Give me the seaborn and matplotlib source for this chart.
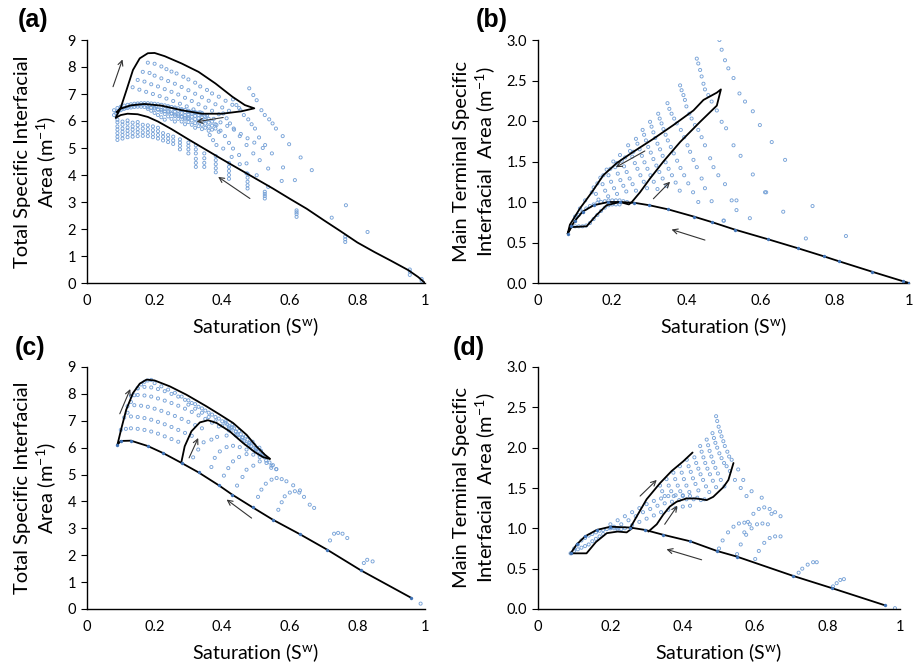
import matplotlib
matplotlib.use("Agg")
import matplotlib.pyplot as plt
import seaborn as sns
import pandas as pd

sns.set_theme(style="white")
plt.rcParams["font.family"] = ["Lato", "DejaVu Sans"]
plt.rcParams["mathtext.fontset"] = "custom"
plt.rcParams["mathtext.rm"] = "Lato"
plt.rcParams["mathtext.it"] = "Lato:italic"

# ---------------- panel (a): total specific interfacial area ----------------
a_main_x = [0.085, 0.10, 0.12, 0.15, 0.18, 0.21, 0.25, 0.30, 0.35, 0.40, 0.45, 0.50,
            0.55, 0.60, 0.65, 0.70, 0.75, 0.80, 0.85, 0.90, 0.95, 0.98, 1.0]
a_main_y = [6.12, 6.22, 6.27, 6.25, 6.15, 5.98, 5.70, 5.32, 4.95, 4.58, 4.22, 3.86,
            3.50, 3.12, 2.75, 2.33, 1.92, 1.50, 1.15, 0.82, 0.48, 0.22, 0.0]
a_loop_x = [0.085, 0.09, 0.10, 0.117, 0.136, 0.156, 0.18, 0.20, 0.23, 0.28, 0.33, 0.38,
            0.43, 0.467, 0.495, 0.457, 0.40, 0.34, 0.28, 0.22, 0.17, 0.13, 0.10, 0.087]
a_loop_y = [6.12, 6.25, 6.50, 7.15, 7.89, 8.32, 8.51, 8.52, 8.40, 8.13, 7.82, 7.39,
            6.90, 6.59, 6.47, 6.36, 6.27, 6.27, 6.40, 6.57, 6.63, 6.58, 6.46, 6.33]
a_arrows = [((0.077, 7.27), (0.105, 8.28)), ((0.403, 6.13), (0.324, 5.97)),
            ((0.482, 3.13), (0.388, 3.93))]
a_points = [
    ([0.18, 0.20, 0.22, 0.235, 0.25, 0.265, 0.285, 0.30, 0.32, 0.335, 0.355, 0.37, 0.39, 0.41, 0.43, 0.45],
     [8.16, 8.12, 8.02, 7.92, 7.83, 7.76, 7.64, 7.54, 7.42, 7.28, 7.15, 7.02, 6.90, 6.75, 6.60, 6.48]),
    ([0.165, 0.185, 0.20, 0.22, 0.24, 0.26, 0.28, 0.30, 0.32, 0.34, 0.36, 0.38, 0.40, 0.42],
     [7.82, 7.78, 7.68, 7.58, 7.48, 7.38, 7.26, 7.14, 7.01, 6.88, 6.75, 6.62, 6.50, 6.38]),
    ([0.15, 0.17, 0.19, 0.21, 0.23, 0.25, 0.27, 0.29, 0.31, 0.33, 0.35, 0.37, 0.39],
     [7.52, 7.46, 7.36, 7.28, 7.18, 7.08, 6.98, 6.86, 6.74, 6.62, 6.50, 6.38, 6.25]),
    ([0.135, 0.155, 0.175, 0.195, 0.215, 0.235, 0.255, 0.275, 0.295, 0.315, 0.335, 0.355, 0.375, 0.395,
      0.415, 0.435, 0.455, 0.475, 0.495, 0.52],
     [7.25, 7.16, 7.08, 7.00, 6.92, 6.83, 6.74, 6.64, 6.54, 6.43, 6.32, 6.20, 6.08, 5.95,
      5.82, 5.68, 5.52, 5.36, 5.20, 5.00]),
    ([0.08, 0.09, 0.10, 0.11, 0.12, 0.13, 0.14, 0.15, 0.16, 0.17, 0.18, 0.19, 0.20, 0.21, 0.22, 0.23,
      0.24, 0.25, 0.26, 0.27, 0.28, 0.29, 0.30, 0.31, 0.32, 0.33, 0.34],
     [6.40, 6.48, 6.53, 6.57, 6.60, 6.62, 6.64, 6.65, 6.66, 6.66, 6.66, 6.65, 6.64, 6.62, 6.60, 6.58,
      6.55, 6.52, 6.50, 6.47, 6.44, 6.41, 6.38, 6.35, 6.33, 6.31, 6.30]),
    ([0.08, 0.09, 0.10, 0.11, 0.12, 0.13, 0.14, 0.15, 0.16, 0.17, 0.18, 0.19, 0.20, 0.21, 0.22, 0.23,
      0.24, 0.25, 0.26, 0.27, 0.28, 0.29, 0.30],
     [6.22, 6.32, 6.40, 6.45, 6.48, 6.50, 6.52, 6.53, 6.53, 6.52, 6.51, 6.49, 6.46, 6.43, 6.40, 6.36,
      6.32, 6.28, 6.24, 6.20, 6.16, 6.12, 6.08]),
    ([0.085, 0.095, 0.105, 0.115, 0.125, 0.135, 0.145, 0.155, 0.165, 0.175, 0.185, 0.195, 0.205],
     [6.30, 6.40, 6.46, 6.50, 6.54, 6.57, 6.59, 6.60, 6.60, 6.60, 6.59, 6.57, 6.55]),
    ([0.18, 0.19, 0.20, 0.21, 0.22, 0.23], [6.45, 6.38, 6.30, 6.22, 6.14, 6.05]),
    ([0.20, 0.21, 0.22, 0.23, 0.24, 0.25, 0.26], [6.50, 6.42, 6.34, 6.26, 6.17, 6.08, 5.98]),
    ([0.22, 0.23, 0.24, 0.25, 0.26, 0.27, 0.28, 0.29], [6.52, 6.44, 6.36, 6.27, 6.18, 6.08, 5.98, 5.88]),
    ([0.24, 0.25, 0.26, 0.27, 0.28, 0.29, 0.30, 0.31, 0.32], [6.50, 6.42, 6.34, 6.25, 6.16, 6.06, 5.96, 5.86, 5.75]),
    ([0.26, 0.27, 0.28, 0.29, 0.30, 0.31, 0.32, 0.33, 0.34], [6.46, 6.38, 6.30, 6.21, 6.12, 6.02, 5.92, 5.81, 5.70]),
    ([0.28, 0.29, 0.30, 0.31, 0.32, 0.33, 0.34, 0.35, 0.36], [6.40, 6.33, 6.25, 6.16, 6.07, 5.97, 5.86, 5.75, 5.64]),
    ([0.30, 0.31, 0.32, 0.33, 0.34, 0.35, 0.36, 0.37], [6.34, 6.27, 6.19, 6.10, 6.00, 5.90, 5.79, 5.68]),
    ([0.32, 0.33, 0.34, 0.35, 0.36, 0.37, 0.38, 0.39], [6.30, 6.22, 6.13, 6.04, 5.94, 5.83, 5.72, 5.60]),
    ([0.34, 0.35, 0.36, 0.37, 0.38], [6.25, 6.17, 6.08, 5.98, 5.88]),
    ([0.48, 0.492, 0.502, 0.516, 0.526, 0.539, 0.549, 0.559, 0.579, 0.598, 0.632, 0.665],
     [7.21, 6.96, 6.77, 6.40, 6.22, 6.06, 5.91, 5.72, 5.44, 5.14, 4.65, 4.18]),
    ([0.432, 0.442, 0.454, 0.464, 0.477, 0.487, 0.497, 0.509, 0.527, 0.547, 0.58, 0.615],
     [6.80, 6.59, 6.40, 6.22, 6.06, 5.88, 5.72, 5.39, 5.11, 4.80, 4.28, 3.81]),
    ([0.403, 0.413, 0.423, 0.434, 0.452, 0.472, 0.492, 0.511, 0.536, 0.576],
     [6.28, 6.10, 5.91, 5.72, 5.44, 5.11, 4.80, 4.55, 4.24, 3.78]),
    ([0.383, 0.395, 0.408, 0.42, 0.432, 0.45, 0.472, 0.502, 0.536],
     [5.85, 5.64, 5.44, 5.19, 4.98, 4.74, 4.43, 3.99, 3.56]),
    ([0.363, 0.373, 0.383, 0.403, 0.428, 0.452, 0.472], [5.48, 5.29, 5.11, 4.98, 4.67, 4.40, 4.06]),
    ([0.09] * 7, [5.30, 5.42, 5.55, 5.68, 5.80, 5.95, 6.05]),
    ([0.105] * 6, [5.35, 5.48, 5.60, 5.72, 5.86, 5.98]),
    ([0.12] * 6, [5.40, 5.52, 5.64, 5.76, 5.90, 6.02]),
    ([0.135] * 5, [5.42, 5.55, 5.68, 5.80, 5.94]),
    ([0.15] * 5, [5.44, 5.58, 5.70, 5.84, 5.96]),
    ([0.165] * 4, [5.45, 5.58, 5.72, 5.86]),
    ([0.18] * 4, [5.44, 5.57, 5.70, 5.84]),
    ([0.195] * 4, [5.40, 5.52, 5.66, 5.80]),
    ([0.21] * 4, [5.35, 5.48, 5.62, 5.75]),
    ([0.225] * 3, [5.28, 5.42, 5.55]),
    ([0.24] * 3, [5.22, 5.35, 5.48]),
    ([0.255] * 3, [5.15, 5.28, 5.42]),
    ([0.275] * 4, [4.95, 5.08, 5.20, 5.32]),
    ([0.30] * 4, [4.80, 4.95, 5.08, 5.20]),
    ([0.322] * 6, [4.30, 4.45, 4.60, 4.80, 4.95, 5.10]),
    ([0.347] * 4, [4.30, 4.45, 4.62, 4.80]),
    ([0.381] * 5, [4.10, 4.25, 4.40, 4.55, 4.70]),
    ([0.42] * 5, [3.86, 4.00, 4.15, 4.30, 4.45]),
    ([0.475] * 5, [3.50, 3.62, 3.75, 3.90, 4.05]),
    ([0.526] * 4, [3.13, 3.22, 3.30, 3.38]),
    ([0.62] * 4, [2.45, 2.55, 2.62, 2.69]),
    ([0.764] * 3, [1.52, 1.62, 1.72]),
    ([0.955] * 3, [0.30, 0.42, 0.50]),
    ([0.99, 0.99], [0.08, 0.15]),
    ([0.766, 0.724, 0.83], [2.88, 2.42, 1.89]),
]

# ---------------- panel (b): main terminal specific interfacial area ----------------
b_main_x = [0.08, 0.09, 0.10, 0.12, 0.15, 0.19, 0.22, 0.26, 0.30, 0.35, 0.42, 0.47,
            0.53, 0.62, 0.70, 0.77, 0.81, 0.90, 0.985, 1.0]
b_main_y = [0.61, 0.70, 0.77, 0.88, 0.96, 1.00, 1.00, 0.99, 0.96, 0.91, 0.82, 0.75,
            0.66, 0.54, 0.43, 0.33, 0.27, 0.14, 0.02, 0.0]
b_loop_x = [0.08, 0.09, 0.131, 0.158, 0.185, 0.221, 0.245, 0.253, 0.275, 0.302, 0.338,
            0.383, 0.437, 0.482, 0.493, 0.482, 0.446, 0.419, 0.365, 0.311, 0.257, 0.212,
            0.176, 0.145, 0.113, 0.086, 0.08]
b_loop_y = [0.61, 0.69, 0.70, 0.84, 0.96, 1.00, 0.97, 1.00, 1.12, 1.29, 1.50,
            1.74, 1.99, 2.19, 2.39, 2.35, 2.26, 2.13, 1.95, 1.78, 1.62, 1.48,
            1.33, 1.12, 0.92, 0.72, 0.61]
b_arrows = [((0.288, 1.63), (0.21, 1.43)), ((0.311, 1.04), (0.356, 1.25)),
            ((0.45, 0.53), (0.36, 0.66))]
b_points = [
    ([0.489, 0.495, 0.504, 0.513, 0.527, 0.543, 0.558, 0.579, 0.598, 0.63, 0.666, 0.74, 0.83],
     [3.00, 2.88, 2.75, 2.65, 2.53, 2.34, 2.24, 2.12, 1.95, 1.74, 1.52, 0.95, 0.58]),
    ([0.428, 0.432, 0.437, 0.441, 0.446, 0.45, 0.459, 0.468, 0.482, 0.495, 0.507, 0.527, 0.546,
      0.579, 0.615, 0.661, 0.722],
     [2.77, 2.71, 2.63, 2.55, 2.46, 2.39, 2.32, 2.24, 2.13, 1.99, 1.91, 1.70, 1.57,
      1.34, 1.12, 0.88, 0.55]),
    ([0.383, 0.387, 0.392, 0.396, 0.40, 0.408, 0.414, 0.423, 0.432, 0.441, 0.45, 0.464, 0.473,
      0.486, 0.504, 0.522, 0.535, 0.571],
     [2.44, 2.38, 2.32, 2.26, 2.18, 2.09, 2.03, 1.95, 1.89, 1.80, 1.70, 1.54, 1.43,
      1.33, 1.22, 1.02, 0.90, 0.80]),
    ([0.349, 0.354, 0.36, 0.367, 0.374, 0.385, 0.394, 0.403, 0.41, 0.419, 0.428, 0.441, 0.45, 0.468, 0.50],
     [2.22, 2.15, 2.09, 2.03, 1.97, 1.89, 1.80, 1.70, 1.62, 1.52, 1.43, 1.29, 1.17, 1.01, 0.77]),
    ([0.324, 0.328, 0.333, 0.338, 0.344, 0.35, 0.358, 0.366, 0.375, 0.384, 0.394, 0.405, 0.418, 0.432],
     [2.09, 2.03, 1.97, 1.90, 1.83, 1.76, 1.68, 1.60, 1.51, 1.42, 1.33, 1.23, 1.12, 1.00]),
    ([0.302, 0.306, 0.311, 0.316, 0.322, 0.329, 0.336, 0.344, 0.352, 0.361, 0.371, 0.382],
     [1.99, 1.93, 1.86, 1.79, 1.72, 1.65, 1.57, 1.49, 1.41, 1.33, 1.24, 1.14]),
    ([0.282, 0.286, 0.291, 0.297, 0.304, 0.311, 0.319, 0.327, 0.336, 0.346],
     [1.89, 1.83, 1.76, 1.68, 1.61, 1.53, 1.45, 1.37, 1.29, 1.20]),
    ([0.264, 0.268, 0.274, 0.28, 0.287, 0.295, 0.303, 0.312, 0.322],
     [1.78, 1.72, 1.65, 1.57, 1.49, 1.41, 1.33, 1.25, 1.16]),
    ([0.243, 0.248, 0.254, 0.261, 0.268, 0.276, 0.285, 0.294],
     [1.70, 1.63, 1.56, 1.48, 1.41, 1.33, 1.25, 1.17]),
    ([0.221, 0.226, 0.232, 0.239, 0.247, 0.255, 0.264], [1.58, 1.51, 1.44, 1.37, 1.29, 1.22, 1.14]),
    ([0.203, 0.208, 0.215, 0.222, 0.23, 0.238], [1.50, 1.43, 1.35, 1.27, 1.20, 1.13]),
    ([0.185, 0.19, 0.197, 0.205, 0.213], [1.40, 1.33, 1.25, 1.17, 1.10]),
    ([0.168, 0.174, 0.181, 0.189], [1.30, 1.22, 1.14, 1.07]),
    ([0.15, 0.156, 0.163], [1.18, 1.10, 1.03]),
    ([0.10, 0.113, 0.127, 0.145, 0.16, 0.176, 0.195, 0.212, 0.235, 0.257],
     [0.82, 0.92, 1.02, 1.12, 1.23, 1.33, 1.41, 1.48, 1.55, 1.62]),
    ([0.09, 0.10, 0.11, 0.12, 0.13, 0.14, 0.15, 0.16, 0.17, 0.18, 0.19, 0.20, 0.21, 0.22, 0.23, 0.24],
     [0.70, 0.78, 0.84, 0.88, 0.92, 0.95, 0.97, 0.99, 1.00, 1.01, 1.02, 1.02, 1.02, 1.02, 1.01, 1.00]),
    ([0.10, 0.11, 0.12, 0.13, 0.14, 0.15, 0.16, 0.17, 0.18, 0.19, 0.20, 0.21, 0.22],
     [0.70, 0.70, 0.70, 0.71, 0.74, 0.79, 0.84, 0.89, 0.93, 0.96, 0.97, 0.97, 0.97]),
    ([0.612, 0.535, 0.501], [1.12, 1.02, 0.77]),
]

# ---------------- panel (c) ----------------
c_main_x = [0.09, 0.10, 0.13, 0.18, 0.225, 0.28, 0.33, 0.39, 0.43, 0.49, 0.55, 0.63, 0.71, 0.81, 0.96]
c_main_y = [6.11, 6.25, 6.26, 6.06, 5.80, 5.43, 5.08, 4.60, 4.25, 3.78, 3.32, 2.78, 2.21, 1.44, 0.41]
c_up_x = [0.09, 0.102, 0.116, 0.136, 0.156, 0.176, 0.20, 0.245, 0.294, 0.353, 0.393, 0.432,
          0.472, 0.501, 0.526, 0.541]
c_up_y = [6.11, 6.73, 7.41, 8.03, 8.38, 8.53, 8.50, 8.28, 7.97, 7.54, 7.23, 6.92,
          6.48, 6.05, 5.74, 5.59]
c_mid_x = [0.279, 0.289, 0.309, 0.334, 0.358, 0.383, 0.422, 0.462, 0.497, 0.521, 0.541]
c_mid_y = [5.45, 6.05, 6.61, 6.94, 7.02, 6.92, 6.61, 6.17, 5.83, 5.65, 5.58]
c_arrows = [((0.097, 7.26), (0.128, 8.18)), ((0.302, 5.62), (0.329, 6.36)),
            ((0.487, 3.38), (0.413, 4.07))]
c_points = [
    ([0.10, 0.115, 0.13, 0.15, 0.17, 0.19, 0.21, 0.23, 0.25, 0.27],
     [6.66, 6.70, 6.72, 6.70, 6.66, 6.60, 6.52, 6.42, 6.32, 6.22]),
    ([0.11, 0.13, 0.15, 0.17, 0.19, 0.21, 0.23, 0.25, 0.27, 0.29, 0.31],
     [7.12, 7.16, 7.14, 7.10, 7.04, 6.96, 6.87, 6.77, 6.66, 6.55, 6.44]),
    ([0.12, 0.14, 0.16, 0.18, 0.20, 0.22, 0.24, 0.26, 0.28, 0.30, 0.32, 0.34],
     [7.54, 7.58, 7.56, 7.52, 7.45, 7.37, 7.28, 7.18, 7.07, 6.96, 6.84, 6.72]),
    ([0.13, 0.15, 0.17, 0.19, 0.21, 0.23, 0.25, 0.27, 0.29, 0.31, 0.33, 0.35, 0.37, 0.39],
     [7.92, 7.96, 7.94, 7.90, 7.83, 7.75, 7.66, 7.56, 7.45, 7.33, 7.20, 7.07, 6.93, 6.79]),
    ([0.15, 0.17, 0.19, 0.21, 0.23, 0.25, 0.27, 0.29, 0.31, 0.33, 0.35, 0.37, 0.39, 0.41, 0.43],
     [8.22, 8.26, 8.24, 8.18, 8.10, 8.00, 7.90, 7.78, 7.66, 7.52, 7.38, 7.23, 7.08, 6.92, 6.76]),
    ([0.20, 0.22, 0.24, 0.26, 0.28, 0.30, 0.32, 0.34, 0.36, 0.38, 0.40, 0.42, 0.44, 0.46, 0.48, 0.50, 0.52],
     [8.40, 8.28, 8.16, 8.04, 7.90, 7.76, 7.62, 7.46, 7.30, 7.14, 6.98, 6.80, 6.60, 6.38, 6.16, 5.94, 5.74]),
    ([0.30, 0.32, 0.34, 0.36, 0.38, 0.40, 0.42, 0.44, 0.46, 0.48, 0.50, 0.52],
     [7.60, 7.45, 7.30, 7.14, 6.98, 6.82, 6.64, 6.46, 6.28, 6.10, 5.90, 5.70]),
    ([0.43, 0.435, 0.44, 0.445, 0.45], [6.85, 6.72, 6.60, 6.48, 6.36]),
    ([0.45, 0.455, 0.46, 0.465, 0.47], [6.62, 6.50, 6.38, 6.26, 6.14]),
    ([0.47, 0.475, 0.48, 0.485, 0.49], [6.42, 6.30, 6.18, 6.06, 5.94]),
    ([0.49, 0.495, 0.50, 0.505, 0.51], [6.22, 6.10, 5.98, 5.86, 5.74]),
    ([0.51, 0.515, 0.52, 0.525, 0.53], [6.00, 5.88, 5.76, 5.64, 5.52]),
    ([0.41, 0.415, 0.42, 0.425], [6.98, 6.86, 6.74, 6.62]),
    ([0.54, 0.55, 0.545, 0.56], [5.45, 5.35, 5.25, 5.20]),
    ([0.12, 0.13, 0.14, 0.15, 0.16, 0.17, 0.18, 0.19], [7.30, 7.70, 7.95, 8.20, 8.35, 8.45, 8.50, 8.52]),
    ([0.314, 0.329, 0.345, 0.368, 0.385, 0.413], [5.64, 5.93, 6.20, 6.30, 6.40, 6.45]),
    ([0.368, 0.378, 0.393, 0.413, 0.432, 0.452, 0.472], [5.28, 5.62, 5.86, 6.02, 6.07, 6.02, 5.93]),
    ([0.405, 0.418, 0.432, 0.45, 0.472, 0.492, 0.511], [4.96, 5.24, 5.49, 5.65, 5.76, 5.74, 5.65]),
    ([0.444, 0.46, 0.472, 0.492, 0.511, 0.531, 0.546, 0.56], [4.59, 4.91, 5.18, 5.33, 5.49, 5.43, 5.33, 5.20]),
    ([0.506, 0.516, 0.529, 0.546, 0.561, 0.576, 0.59, 0.61, 0.63],
     [4.17, 4.44, 4.66, 4.81, 4.87, 4.83, 4.75, 4.60, 4.41]),
    ([0.566, 0.576, 0.585, 0.60, 0.615, 0.628, 0.642, 0.659, 0.672],
     [3.69, 3.97, 4.19, 4.33, 4.38, 4.33, 4.17, 3.88, 3.76]),
    ([0.719, 0.731, 0.743, 0.756, 0.77], [2.55, 2.80, 2.83, 2.80, 2.64]),
    ([0.819, 0.829, 0.845], [1.71, 1.83, 1.77]),
    ([0.987], [0.20]),
]

# ---------------- panel (d) ----------------
d_main_x = [0.09, 0.107, 0.13, 0.162, 0.20, 0.254, 0.296, 0.346, 0.42, 0.494, 0.549, 0.705, 0.811, 0.959]
d_main_y = [0.69, 0.80, 0.90, 0.98, 1.02, 1.01, 0.98, 0.92, 0.84, 0.72, 0.65, 0.41, 0.26, 0.045]
d_low_x = [0.09, 0.134, 0.16, 0.19, 0.22, 0.245, 0.26]
d_low_y = [0.69, 0.69, 0.83, 0.94, 0.96, 0.95, 1.00]
d_b1_x = [0.254, 0.273, 0.30, 0.337, 0.369, 0.401, 0.427]
d_b1_y = [1.00, 1.15, 1.36, 1.56, 1.71, 1.83, 1.94]
d_b2_x = [0.305, 0.328, 0.346, 0.364, 0.383, 0.41, 0.438, 0.466, 0.484, 0.512, 0.526, 0.54]
d_b2_y = [0.96, 1.05, 1.17, 1.27, 1.33, 1.37, 1.37, 1.35, 1.39, 1.51, 1.60, 1.81]
d_arrows = [((0.282, 1.40), (0.328, 1.60)), ((0.35, 1.05), (0.385, 1.28)),
            ((0.452, 0.61), (0.355, 0.74))]
d_points = [
    ([0.492, 0.495, 0.499, 0.503, 0.507, 0.512, 0.516, 0.523, 0.528, 0.535, 0.553, 0.567, 0.59, 0.618, 0.645],
     [2.39, 2.33, 2.26, 2.20, 2.14, 2.08, 2.02, 1.95, 1.89, 1.85, 1.73, 1.60, 1.46, 1.38, 1.18]),
    ([0.482, 0.486, 0.49, 0.495, 0.501, 0.507, 0.514, 0.521, 0.53, 0.544, 0.56, 0.576],
     [2.18, 2.12, 2.06, 2.00, 1.93, 1.87, 1.81, 1.77, 1.71, 1.60, 1.50, 1.40]),
    ([0.466, 0.47, 0.474, 0.479, 0.484, 0.49, 0.497, 0.505, 0.515],
     [2.10, 2.03, 1.96, 1.89, 1.82, 1.75, 1.68, 1.60, 1.52]),
    ([0.448, 0.452, 0.457, 0.462, 0.468, 0.475, 0.483, 0.492],
     [2.02, 1.95, 1.88, 1.81, 1.74, 1.67, 1.59, 1.51]),
    ([0.432, 0.437, 0.443, 0.449, 0.456, 0.464, 0.473], [1.88, 1.81, 1.74, 1.67, 1.60, 1.52, 1.45]),
    ([0.411, 0.416, 0.422, 0.428, 0.435, 0.443], [1.85, 1.77, 1.70, 1.62, 1.55, 1.47]),
    ([0.392, 0.397, 0.403, 0.41, 0.418], [1.77, 1.69, 1.61, 1.53, 1.45]),
    ([0.374, 0.379, 0.386, 0.393, 0.40], [1.69, 1.61, 1.53, 1.46, 1.40]),
    ([0.355, 0.361, 0.368, 0.375], [1.61, 1.53, 1.46, 1.40]),
    ([0.337, 0.343, 0.35], [1.53, 1.46, 1.40]),
    ([0.20, 0.22, 0.24, 0.26, 0.28, 0.30, 0.32, 0.34, 0.36, 0.38, 0.40, 0.42, 0.44, 0.46],
     [1.05, 1.10, 1.15, 1.20, 1.25, 1.30, 1.34, 1.37, 1.40, 1.41, 1.41, 1.40, 1.38, 1.36]),
    ([0.21, 0.23, 0.25, 0.27, 0.29, 0.31, 0.33, 0.35, 0.37, 0.39, 0.41, 0.43, 0.45],
     [1.02, 1.05, 1.10, 1.15, 1.20, 1.24, 1.28, 1.31, 1.33, 1.35, 1.36, 1.36, 1.35]),
    ([0.22, 0.24, 0.26, 0.28, 0.30, 0.32, 0.34, 0.36, 0.38, 0.40, 0.42],
     [0.98, 1.00, 1.04, 1.08, 1.12, 1.16, 1.20, 1.23, 1.25, 1.27, 1.28]),
    ([0.09, 0.10, 0.11, 0.12, 0.13, 0.14, 0.15, 0.16, 0.17, 0.18, 0.19, 0.20, 0.21, 0.22, 0.23],
     [0.69, 0.75, 0.80, 0.85, 0.88, 0.91, 0.93, 0.95, 0.97, 0.98, 0.99, 1.00, 1.00, 1.00, 0.99]),
    ([0.10, 0.11, 0.12, 0.13, 0.14, 0.15, 0.16, 0.17, 0.18], [0.72, 0.74, 0.76, 0.78, 0.80, 0.84, 0.87, 0.90, 0.93]),
    ([0.50, 0.51, 0.525, 0.54, 0.555, 0.57, 0.585], [0.75, 0.85, 0.95, 1.02, 1.06, 1.07, 1.05]),
    ([0.55, 0.56, 0.575, 0.59, 0.605, 0.62, 0.635], [0.68, 0.80, 0.92, 1.00, 1.05, 1.06, 1.05]),
    ([0.60, 0.61, 0.625, 0.64, 0.655, 0.67], [0.62, 0.72, 0.82, 0.88, 0.90, 0.90]),
    ([0.57, 0.58, 0.595, 0.61, 0.625, 0.64, 0.655, 0.67], [0.95, 1.08, 1.18, 1.24, 1.26, 1.24, 1.20, 1.15]),
    ([0.72, 0.73, 0.745, 0.76, 0.77], [0.45, 0.50, 0.55, 0.58, 0.58]),
    ([0.815, 0.825, 0.835, 0.845], [0.28, 0.32, 0.36, 0.37]),
    ([0.986], [0.01]),
]

x_ticks = [0, 0.2, 0.4, 0.6, 0.8, 1.0]
x_tick_labels = ["0", "0.2", "0.4", "0.6", "0.8", "1"]
area_ticks = list(range(0, 10))
terminal_ticks = [0.0, 0.5, 1.0, 1.5, 2.0, 2.5, 3.0]

POINT_EDGE = "#78a3d8"
VERTEX = "#3f72b5"
W, H = 916, 667


def px_axes(fig, left, top, right, bottom):
    return fig.add_axes([left / W, 1 - bottom / H, (right - left) / W, (bottom - top) / H])


def draw_points(ax, strokes):
    xs, ys = [], []
    for sx, sy in strokes:
        xs += list(sx)
        ys += list(sy)
    df = pd.DataFrame({"Sw": xs, "area": ys})
    sns.scatterplot(data=df, x="Sw", y="area", marker="o", s=5, ax=ax, zorder=2)
    coll = ax.collections[-1]
    coll.set_facecolor("none")
    coll.set_edgecolor(POINT_EDGE)
    coll.set_linewidth(0.65)


def draw_curve(ax, xs, ys, vertices=False):
    sns.lineplot(x=xs, y=ys, sort=False, estimator=None, color="black", lw=1.3, ax=ax, zorder=3)
    if vertices:
        sns.scatterplot(x=xs, y=ys, marker="o", s=5, color=VERTEX, edgecolor=VERTEX, ax=ax, zorder=4)


def draw_arrows(ax, arrows):
    for (x0, y0), (x1, y1) in arrows:
        ax.annotate("", xy=(x1, y1), xytext=(x0, y0),
                    arrowprops=dict(arrowstyle="->", color="#333333", lw=0.8,
                                    shrinkA=0, shrinkB=0, mutation_scale=9))


def style(ax, yticks, ylim, yfmt, ylabel, letter, letter_xy, fig):
    ax.set_xlim(0, 1)
    ax.set_ylim(*ylim)
    ax.set_xticks(x_ticks)
    ax.set_xticklabels(x_tick_labels)
    ax.set_yticks(yticks)
    ax.set_yticklabels([yfmt.format(v) for v in yticks])
    for side in ("top", "right"):
        ax.spines[side].set_visible(False)
    for side in ("left", "bottom"):
        ax.spines[side].set_color("black")
        ax.spines[side].set_linewidth(1.0)
    ax.tick_params(axis="y", which="major", left=True, length=4, width=0.8, color="black",
                   labelsize=10.5, pad=4, labelcolor="black")
    ax.tick_params(axis="x", which="major", bottom=False, length=0, labelsize=10.5, pad=8,
                   labelcolor="black")
    ax.set_xlabel(r"Saturation (S$^{\mathrm{w}}$)", fontsize=14, labelpad=5, color="black")
    ax.set_ylabel(ylabel, fontsize=14.5, labelpad=7, color="black", linespacing=1.12)
    ax.grid(False)
    fig.text(letter_xy[0] / W, 1 - letter_xy[1] / H, letter, fontsize=18, fontweight="bold",
             family="Liberation Sans", ha="center", va="center", color="black")


fig = plt.figure(figsize=(W / 100, H / 100), dpi=100)
fig.patch.set_facecolor("white")

total_label = "Total Specific Interfacial\n" + r"Area (m$^{-1}$)"
terminal_label = "Main Terminal Specific\n" + r"Interfacial  Area (m$^{-1}$)"

ax_a = px_axes(fig, 87, 40, 425, 283)
draw_points(ax_a, a_points)
draw_curve(ax_a, a_main_x, a_main_y)
draw_curve(ax_a, a_loop_x, a_loop_y)
draw_arrows(ax_a, a_arrows)
style(ax_a, area_ticks, (0, 9), "{:d}", total_label, "(a)", (33, 20), fig)

ax_b = px_axes(fig, 538, 40, 909, 283)
draw_points(ax_b, b_points)
draw_curve(ax_b, b_main_x, b_main_y, vertices=True)
draw_curve(ax_b, b_loop_x, b_loop_y)
draw_arrows(ax_b, b_arrows)
style(ax_b, terminal_ticks, (0, 3), "{:.1f}", terminal_label, "(b)", (492, 20), fig)

ax_c = px_axes(fig, 87, 367, 425, 609)
draw_points(ax_c, c_points)
draw_curve(ax_c, c_main_x, c_main_y, vertices=True)
draw_curve(ax_c, c_up_x, c_up_y)
draw_curve(ax_c, c_mid_x, c_mid_y)
draw_arrows(ax_c, c_arrows)
style(ax_c, area_ticks, (0, 9), "{:d}", total_label, "(c)", (30, 348), fig)

ax_d = px_axes(fig, 538, 367, 900, 609)
draw_points(ax_d, d_points)
draw_curve(ax_d, d_main_x, d_main_y, vertices=True)
draw_curve(ax_d, d_low_x, d_low_y)
draw_curve(ax_d, d_b1_x, d_b1_y)
draw_curve(ax_d, d_b2_x, d_b2_y)
draw_arrows(ax_d, d_arrows)
style(ax_d, terminal_ticks, (0, 3), "{:.1f}", terminal_label, "(d)", (469, 348), fig)

fig.savefig("out.png", dpi=100, facecolor="white")
